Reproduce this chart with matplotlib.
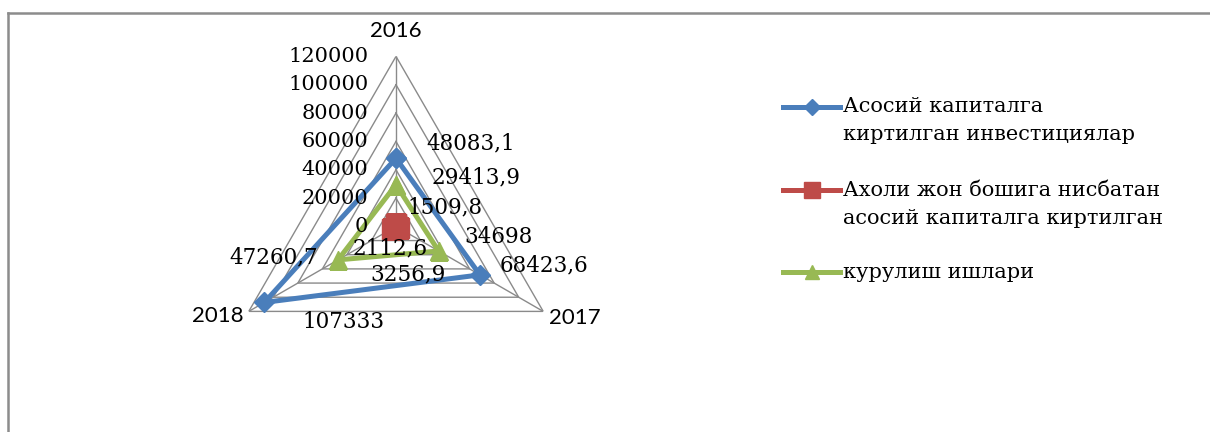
import numpy as np
import matplotlib
matplotlib.use("Agg")
import matplotlib.pyplot as plt
from matplotlib.lines import Line2D

# ---- data ----
categories = ["2016", "2017", "2018"]
investments = [48083.1, 68423.6, 107333]
per_capita = [1509.8, 2112.6, 3256.9]
construction = [29413.9, 34698, 47260.7]
series_names = ["Асосий капиталга\nкиртилган инвестициялар",
                "Ахоли жон бошига нисбатан\nасосий капиталга киртилган",
                "курулиш ишлари"]
r_ticks = [0, 20000, 40000, 60000, 80000, 100000, 120000]

# ---- styles ----
colors = ["#4a7ebb", "#be4b48", "#98b954"]
markers = ["D", "s", "^"]
msizes = [10, 14, 13]
grid_col = "#8a8a8a"
serif = "DejaVu Serif"
sans = "Lato"
fs = 15

# label offsets (points) per series, per category
label_offsets = [
    [(54, 11), (46, 7), (57, -14)],
    [(35, 12), (-6, -14.5), (11.5, -33)],
    [(58, 5), (43, 10), (-46, 2)],
]

W, H = 1210, 432
fig = plt.figure(figsize=(W / 100, H / 100), dpi=100)

cx, cy, R = 396, 226.4, 170
ax = fig.add_axes([(cx - R) / W, (H - cy - R) / H, 2 * R / W, 2 * R / H],
                  projection="polar")
ax.set_theta_offset(np.pi / 2)
ax.set_theta_direction(-1)
ax.set_ylim(0, r_ticks[-1])
ax.grid(False)
ax.spines["polar"].set_visible(False)
ax.set_xticks([])
ax.set_yticks([])
ax.patch.set_alpha(0)

n = len(categories)
theta = np.arange(n) * 2 * np.pi / n
theta_closed = np.append(theta, theta[0])

# triangular grid
for t in r_ticks[1:]:
    ax.plot(theta_closed, [t] * (n + 1), color=grid_col, lw=1.0, zorder=1)
for th in theta:
    ax.plot([th, th], [0, r_ticks[-1]], color=grid_col, lw=1.0, zorder=1)

# tick labels
for t in r_ticks:
    ax.annotate(str(t), xy=(0, t), xytext=(-20, 0), textcoords="offset points",
                ha="right", va="center", fontsize=fs, family=serif, zorder=5)

# category labels
cat_offsets = [(0, 11, "center", "bottom"), (4, -4.5, "left", "center"),
               (-4, -3, "right", "center")]
for th, c, (ox, oy, ha, va) in zip(theta, categories, cat_offsets):
    ax.annotate(c, xy=(th, r_ticks[-1]), xytext=(ox, oy), textcoords="offset points",
                ha=ha, va=va, fontsize=16, family=sans, annotation_clip=False)

# series
all_series = [investments, per_capita, construction]
order = [0, 2, 1]
zorders = {0: 3, 1: 4, 2: 3.5}
for i in order:
    vals = all_series[i]
    ax.plot(theta_closed, list(vals) + [vals[0]], color=colors[i], lw=3.6,
            marker=markers[i], markersize=msizes[i], markeredgecolor=colors[i],
            zorder=zorders[i], solid_joinstyle="miter")

for i, vals in enumerate(all_series):
    for th, v, off in zip(theta, vals, label_offsets[i]):
        txt = f"{v:g}".replace(".", ",")
        ax.annotate(txt, xy=(th, v), xytext=off, textcoords="offset points",
                    ha="center", va="center", fontsize=15.5, family=serif, zorder=6,
                    annotation_clip=False)

# frame (top and left edges of chart area)
fig.add_artist(Line2D([8 / W, 1], [1 - 13 / H, 1 - 13 / H], transform=fig.transFigure,
                      color="#8c8c8c", lw=1.8))
fig.add_artist(Line2D([8 / W, 8 / W], [0, 1 - 13 / H], transform=fig.transFigure,
                      color="#8c8c8c", lw=1.8))

# legend (manual)
leg_y = [107, 190, 272]
x0, x1, xt = 783, 840, 843
for i, (name, yy) in enumerate(zip(series_names, leg_y)):
    fy = 1 - yy / H
    fig.add_artist(Line2D([x0 / W, x1 / W], [fy, fy], transform=fig.transFigure,
                          color=colors[i], lw=3.6))
    fig.add_artist(Line2D([(x0 + x1) / 2 / W], [fy], transform=fig.transFigure,
                          color=colors[i], marker=markers[i],
                          markersize=msizes[i] * 0.8, lw=0))
    for k, line in enumerate(name.split("\n")):
        fig.text(xt / W, 1 - (yy + 28 * k) / H, line, ha="left", va="center",
                 fontsize=fs, family=serif)

fig.savefig("out.png", dpi=100)
